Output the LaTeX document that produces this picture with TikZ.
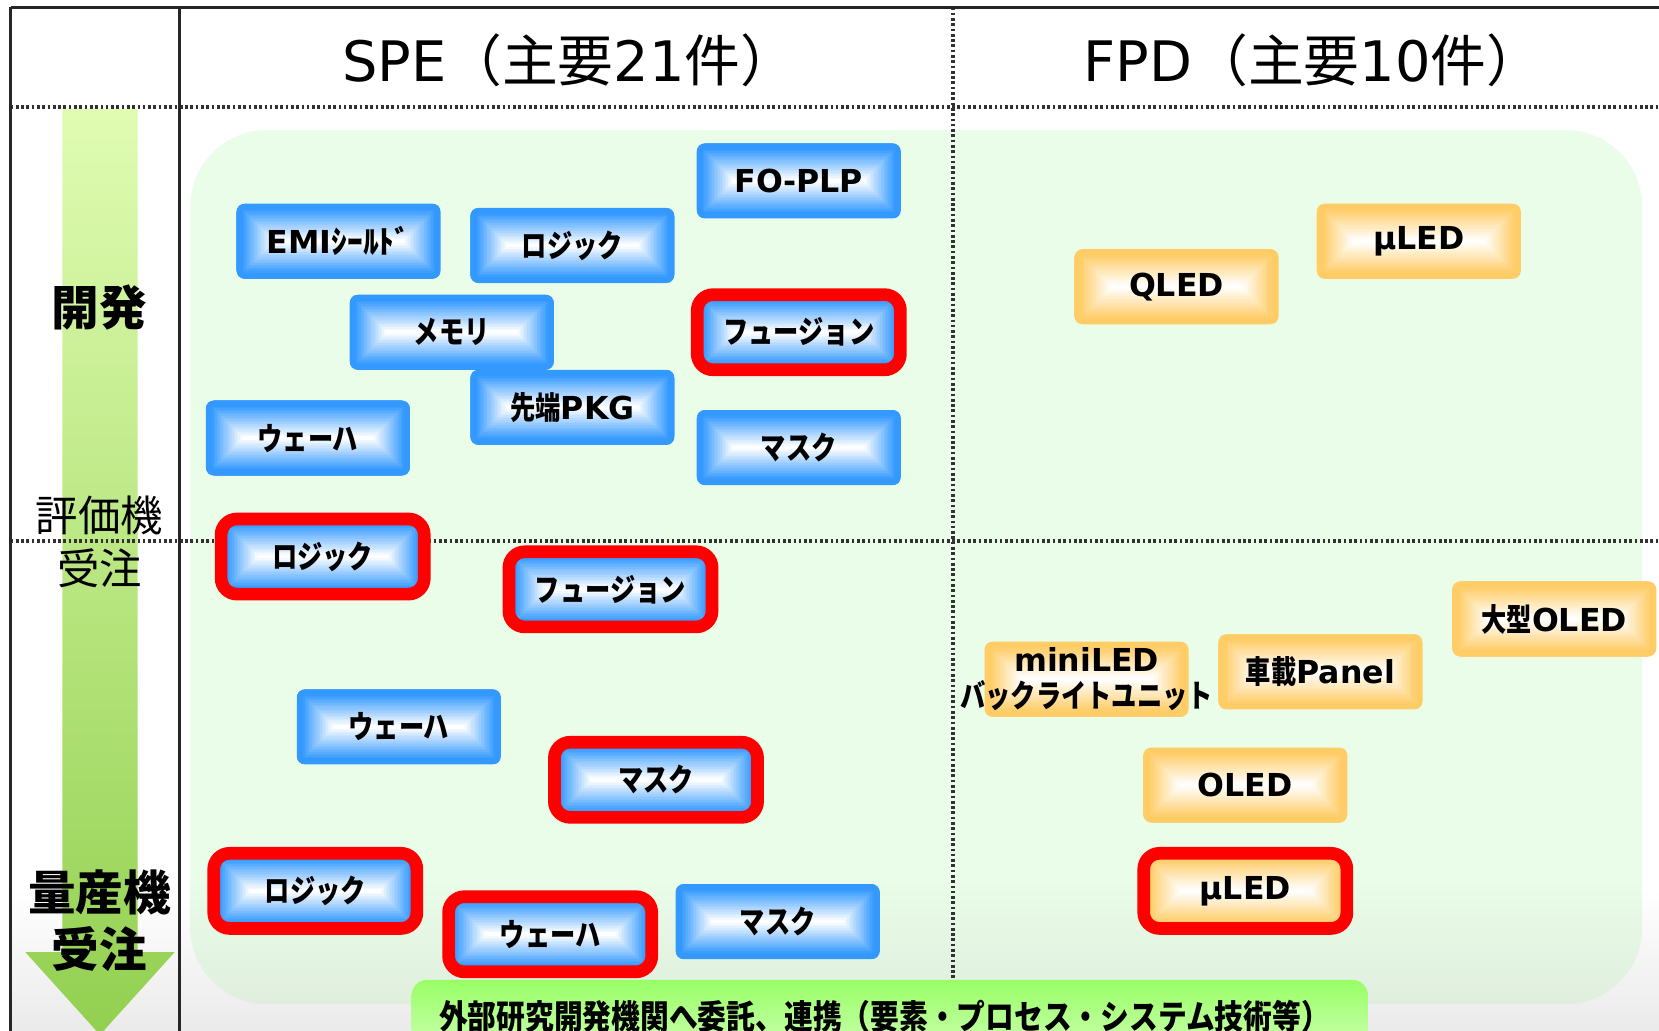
\documentclass[tikz,border=0pt]{standalone}
\usepackage{fontspec}
\setmainfont{Noto Sans CJK JP}
\newfontfamily\latinfont{DejaVu Sans}
\newfontfamily\jpfont{Noto Sans CJK JP}
\newfontfamily\jpcfont{Noto Sans CJK JP}[FakeStretch=0.8]
\newfontfamily\jpbarfont{Noto Sans CJK JP}[FakeStretch=0.85]
\usetikzlibrary{calc}
\definecolor{boxblue}{RGB}{51,153,255}
\definecolor{boxorange}{RGB}{255,204,102}
\definecolor{panelgreen}{RGB}{233,253,232}
\definecolor{panelbottom}{RGB}{224,238,222}
\definecolor{arrowtop}{RGB}{224,252,178}
\definecolor{arrowbot}{RGB}{146,208,80}
\definecolor{bartop}{RGB}{153,255,102}
\definecolor{barbot}{RGB}{215,255,195}
\definecolor{gridgray}{RGB}{50,50,50}
\newcommand\JP[1]{{\jpcfont #1}}
\newcommand\boxtext{\fontsize{8.5pt}{10pt}\selectfont\bfseries\latinfont}
\newcommand\gradfill[1]{%
  \foreach \i in {0,...,24}{%
    \pgfmathsetmacro{\pct}{max(0,min(100,120*(1-\i/24)-4))}%
    \pgfmathsetlengthmacro{\ins}{0.147mm*\i}%
    \fill[#1!\pct!white, sharp corners] ($(path picture bounding box.south west)+(\ins,\ins)$) rectangle ($(path picture bounding box.north east)+(-\ins,-\ins)$);
  }}
\begin{document}
\begin{tikzpicture}[x=0.1mm, y=-0.1mm,
  item/.style={rectangle, rounded corners=0.8mm, minimum width=19.3mm, minimum height=7.1mm, inner sep=0pt, font=\boxtext},
  bluebox/.style={item, fill=boxblue, path picture={\gradfill{boxblue}}},
  orangebox/.style={item, fill=boxorange, path picture={\gradfill{boxorange}}},
  redframe/.style={draw=red, line width=1.2mm, rounded corners=1.5mm, minimum width=19.2mm},
  frameline/.style={line width=0.3mm, black!85},
  gridline/.style={line width=0.35mm, gridgray, dash pattern=on 0.25mm off 0.25mm},
  ttl/.style={font=\fontsize{15pt}{17pt}\selectfont},
  sidelab/.style={font=\fontsize{11.4pt}{13pt}\selectfont\jpfont},
  sidebold/.style={font=\fontsize{12.8pt}{15pt}\selectfont\jpfont\bfseries},
]
\useasboundingbox (0,0) rectangle (1568,974);
\clip (0,0) rectangle (1568,974);
\fill[white] (0,0) rectangle (1568,974);
\shade[top color=white, bottom color=black!8] (10,840) rectangle (1568,974);
% panel
\fill[panelgreen, rounded corners=7.2mm] (180,123) rectangle (1552,949);
\begin{scope}
  \clip[rounded corners=7.2mm] (180,123) rectangle (1552,949);
  \shade[top color=panelgreen, bottom color=panelbottom] (180,830) rectangle (1552,949);
\end{scope}
% arrow
\shade[top color=arrowtop, bottom color=arrowbot] (59,103) -- (130,103) -- (130,900) -- (165,900) -- (94.5,978) -- (24,900) -- (59,900) -- cycle;
% grid
\draw[gridline] (10,101) -- (1568,101);
\draw[gridline] (10,511) -- (1568,511);
\draw[gridline] (901,7) -- (901,926);
\draw[frameline] (10,7) -- (1568,7);
\draw[frameline] (10,7) -- (10,974);
\draw[frameline] (170,7) -- (170,974);
% titles
\node[ttl] (spe) at (538,57) {\latinfont SPE\jpfont （主要\latinfont 21\jpfont 件）};
\node[ttl] (fpd) at (1241,57) {\latinfont FPD\jpfont （主要\latinfont 10\jpfont 件）};
% side labels
\node[sidebold] (dev) at (94,291) {開発};
\node[sidelab] (eval) at (94,487) {評価機};
\node[sidelab] (evalord) at (94,537) {受注};
\node[sidebold] (mass) at (94,843) {量産機};
\node[sidebold] (massord) at (94,897) {受注};
% SPE boxes
\node[bluebox] (b1) at (320,228) {EMI{\jpfont ｼｰﾙﾄﾞ}};
\node[bluebox] (b2) at (541,232) {\JP{ロジック}};
\node[bluebox] (b3) at (755,171) {FO-PLP};
\node[bluebox] (b4) at (427,314) {\JP{メモリ}};
\node[bluebox, redframe] (b5) at (755,314) {\JP{フュージョン}};
\node[bluebox] (b6) at (541,385) {\JP{先端}PKG};
\node[bluebox] (b7) at (291,414) {\JP{ウェーハ}};
\node[bluebox] (b8) at (755,423) {\JP{マスク}};
\node[bluebox, redframe] (b9) at (305,526) {\JP{ロジック}};
\node[bluebox, redframe] (b10) at (577,557) {\JP{フュージョン}};
\node[bluebox] (b11) at (377,687) {\JP{ウェーハ}};
\node[bluebox, redframe] (b12) at (620,737) {\JP{マスク}};
\node[bluebox, redframe] (b13) at (298,842) {\JP{ロジック}};
\node[bluebox, redframe] (b14) at (520,883) {\JP{ウェーハ}};
\node[bluebox] (b15) at (735,871) {\JP{マスク}};
% FPD boxes
\node[orangebox] (f1) at (1112,271) {QLED};
\node[orangebox] (f2) at (1341,228) {µLED};
\node[orangebox] (f3) at (1469,585) {\JP{大型}OLED};
\node[orangebox] (f4) at (1027,642) {};
\node[font=\boxtext, align=center, inner sep=0pt] (f4t) at (f4) {miniLED\\[-0.5pt]\JP{バックライトユニット}};
\node[orangebox] (f5) at (1248,635) {\JP{車載}Panel};
\node[orangebox] (f6) at (1177,742) {OLED};
\node[orangebox, redframe] (f7) at (1177,842) {µLED};
% bottom bar
\shade[top color=bartop, bottom color=barbot, rounded corners=1.5mm] (389,926) rectangle (1293,1010);
\node[font=\fontsize{9.1pt}{11pt}\selectfont\jpbarfont\bfseries] (bartext) at (836,961) {外部研究開発機関へ委託、連携（要素・プロセス・システム技術等）};
\end{tikzpicture}
\end{document}
